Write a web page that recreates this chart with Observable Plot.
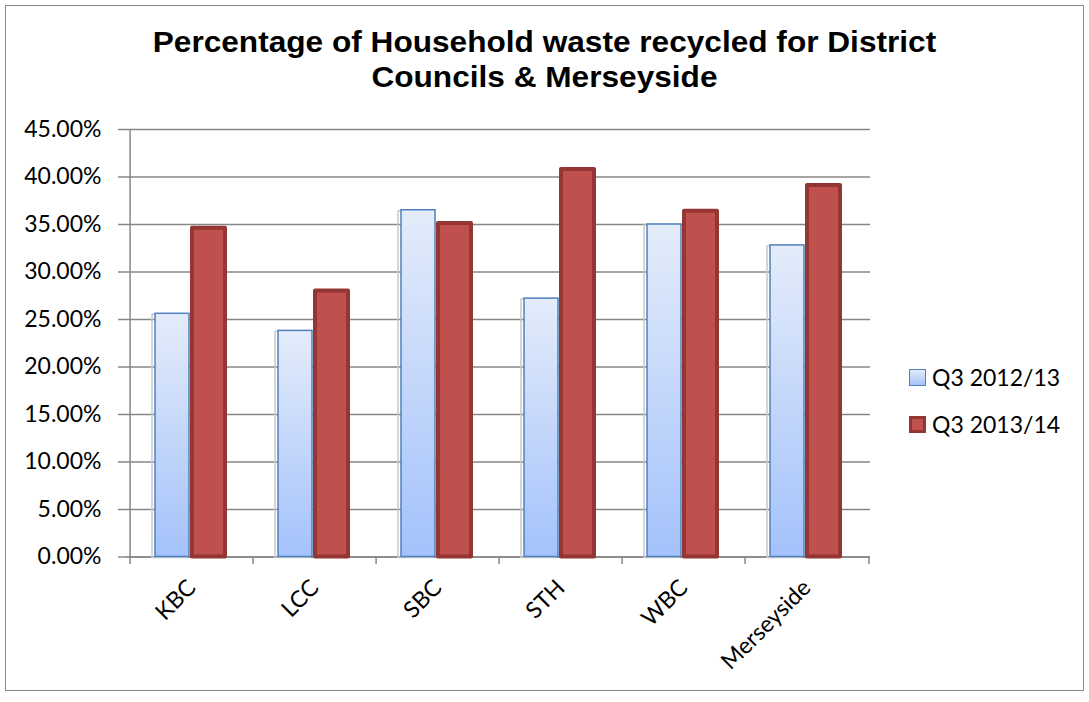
<!DOCTYPE html>
<html>
<head>
<meta charset="utf-8">
<script src="https://cdn.jsdelivr.net/npm/d3@7"></script>
<script src="https://cdn.jsdelivr.net/npm/@observablehq/plot@0.6"></script>
<style>
  body { margin: 0; background: #fff; }
  #wrap { position: relative; width: 1089px; height: 702px; overflow: hidden; }
  #frame { position: absolute; left: 5px; top: 5px; width: 1077px; height: 684px; border: 1.5px solid #8a8a8a; }
  #chart { position: absolute; left: 0; top: 0; }
  #title { position: absolute; left: 0; top: 25px; width: 1089px; text-align: center;
           font: bold 29px "Liberation Sans", Arial, sans-serif; line-height: 35px; color: #000;
           transform: scaleX(1.09); transform-origin: 545px 0; }
  .li { position: absolute; left: 909px; display: flex; align-items: center; height: 30px;
        font: 23px Lato, "Noto Sans", sans-serif; color: #000; }
  .sw { width: 17px; height: 17px; margin-right: 6px; box-sizing: border-box; }
</style>
</head>
<body>
<div id="wrap">
  <div id="frame"></div>
  <div id="chart"></div>
  <div id="title">Percentage of Household waste recycled for District<br>Councils &amp; Merseyside</div>
  <div id="legend"></div>
</div>
<script>
const categories = ["KBC", "LCC", "SBC", "STH", "WBC", "Merseyside"];
const seriesNames = ["Q3 2012/13", "Q3 2013/14"];
const q3_2012_13 = [25.6, 23.8, 36.5, 27.2, 35.0, 32.8];
const q3_2013_14 = [34.6, 28.0, 35.1, 40.8, 36.4, 39.1];
const yTicks = [0, 5, 10, 15, 20, 25, 30, 35, 40, 45];

const rows1 = categories.map((c, i) => ({category: c, series: seriesNames[0], value: q3_2012_13[i]}));
const rows2 = categories.map((c, i) => ({category: c, series: seriesNames[1], value: q3_2013_14[i]}));

const W = 1089, H = 702, ML = 127, MR = 219, MT = 129, MB = 145.5;
const bw = (W - ML - MR) / categories.length;
const grey = "#878787";

const plot = Plot.plot({
  width: W, height: H,
  marginLeft: ML, marginRight: MR, marginTop: MT, marginBottom: MB,
  style: {fontFamily: "Lato, 'Noto Sans', sans-serif", fontSize: "23px", color: "#000", background: "transparent"},
  x: {type: "band", domain: categories, padding: 0, label: null},
  y: {domain: [0, 45], label: null},
  marks: [
    Plot.gridY(yTicks, {stroke: grey, strokeOpacity: 1, strokeWidth: 1.5}),
    Plot.axisY(yTicks, {tickSize: 9, tickPadding: 17, stroke: grey, strokeWidth: 1.5, label: null,
      tickFormat: d => d.toFixed(2) + "%", fontSize: 23, fill: "#000"}),
    Plot.axisX({tickSize: 0, tickRotate: -45, tickPadding: 27, fontSize: 23, fill: "#000", label: null}),
    // left axis line
    Plot.ruleX([categories[0]], {x: d => d, dx: -bw / 2, y1: 0, y2: 45, stroke: grey, strokeWidth: 1.5}),
    // bottom axis line
    Plot.ruleY([0], {stroke: grey, strokeWidth: 1.5}),
    // category boundary ticks
    Plot.ruleX(categories, {x: d => d, dx: -bw / 2, y1: 0, y2: -0.8, stroke: grey, strokeWidth: 1.5}),
    Plot.ruleX([categories[categories.length - 1]], {x: d => d, dx: bw / 2, y1: 0, y2: -0.8, stroke: grey, strokeWidth: 1.5}),
    // shadow of light bars
    Plot.barY(rows1, {x: "category", y: "value", insetLeft: 22, insetRight: 66, dy: 1,
      fill: "none", stroke: "#c9c9c9", strokeWidth: 1.5}),
    Plot.barY(rows1, {x: "category", y: "value", insetLeft: 25, insetRight: 64,
      fill: "url(#lightGrad)", stroke: "#4f81bd", strokeWidth: 1.5}),
    Plot.barY(rows2, {x: "category", y: "value", insetLeft: 62, insetRight: 28,
      fill: "#c0504d", stroke: "#943634", strokeWidth: 4, strokeLinejoin: "round"})
  ]
});

d3.select(plot).insert("defs", ":first-child").html(
  '<linearGradient id="lightGrad" x1="0" y1="0" x2="0" y2="1">' +
  '<stop offset="0" stop-color="#e4ecfa"/><stop offset="1" stop-color="#a4c2fb"/></linearGradient>');

document.getElementById("chart").appendChild(plot);

const legend = d3.select("#legend");
const sw = [
  {bg: "linear-gradient(#e4ecfa, #a4c2fb)", border: "1.5px solid #4f81bd", top: 362},
  {bg: "#c0504d", border: "3.5px solid #943634", top: 409}
];
seriesNames.forEach((s, i) => {
  const li = legend.append("div").attr("class", "li").style("top", sw[i].top + "px");
  li.append("div").attr("class", "sw").style("background", sw[i].bg).style("border", sw[i].border);
  li.append("span").text(s);
});
</script>
</body>
</html>
